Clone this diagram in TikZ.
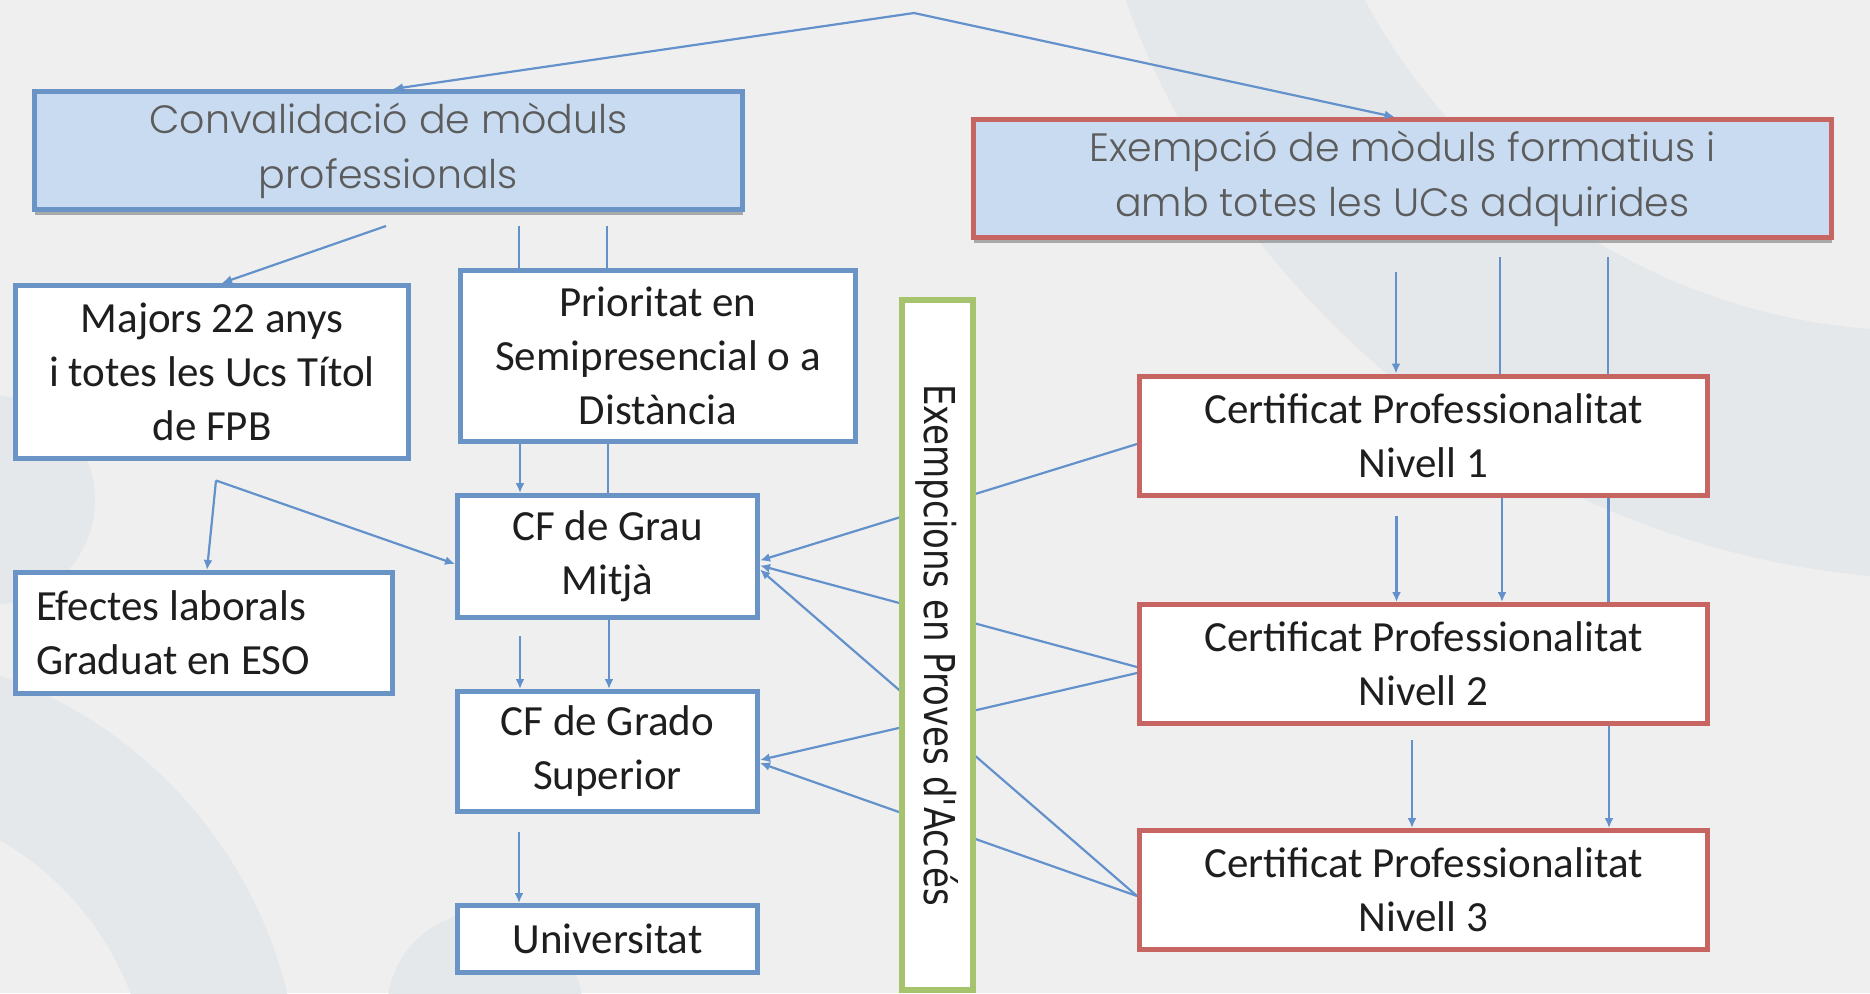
\documentclass[tikz,border=0pt]{standalone}
\usepackage{fontspec}
\setmainfont{Carlito}
\newfontfamily\titlefont{Poppins Light}
\newfontfamily\sidefont{DejaVu Sans}
\usepackage{tikz}
\usetikzlibrary{calc}
\usetikzlibrary{arrows.meta}
\usetikzlibrary{shadows}

\definecolor{bgcol}{HTML}{EFEFEF}
\definecolor{bgshade}{HTML}{E5E8EA}
\definecolor{boxblue}{HTML}{6A93C6}
\definecolor{boxred}{HTML}{C76562}
\definecolor{boxgreen}{HTML}{A6C46E}
\definecolor{titlefill}{HTML}{C8DBF0}
\definecolor{titletext}{HTML}{5C5C5C}
\definecolor{bodytext}{HTML}{1E1E1E}
\definecolor{linkblue}{HTML}{6391CB}

\begin{document}
\begin{tikzpicture}[x=1pt,y=-1pt,
	box/.style={draw=boxblue,line width=5pt,fill=white,inner sep=0pt,text=bodytext,align=center,font=\fontsize{43}{54}\selectfont},
	titlebox/.style={box,fill=titlefill,text=titletext,font=\titlefont\fontsize{39.5}{55}\selectfont,drop shadow={shadow xshift=0pt,shadow yshift=-5pt,fill=black!45,opacity=0.7}},
	certbox/.style={box,draw=boxred,minimum width=568pt,minimum height=119pt},
	cfbox/.style={box,minimum width=300pt},
	ln/.style={draw=linkblue,line width=2.2pt},
	arr/.style={ln,-{Latex[length=10pt,width=9pt]}}]
	\useasboundingbox (0,0) rectangle (1870,993);
	\fill[bgcol] (0,0) rectangle (1870,993);
	% background rings
	\begin{scope}
		\clip (0,0) rectangle (1870,993);
		\fill[bgshade,even odd rule] (1953,-300) circle (880pt) (1920,-300) circle (631pt);
		\fill[bgshade] (-10,500) circle (105pt);
		\fill[bgshade,even odd rule] (-150,1100) circle (450pt) (-150,1100) circle (300pt);
		\fill[bgshade] (485,1010) circle (98pt);
	\end{scope}

	% boxes
	\node[titlebox,minimum width=708pt,minimum height=118pt] (conv) at (388.5,150.5) {Convalidació de mòduls\\professionals};
	\node[titlebox,draw=boxred,minimum width=858pt,minimum height=118pt] (exem) at (1402.5,178.5) {Exempció de mòduls formatius i\\amb totes les UCs adquirides};
	\node[box,minimum width=393pt,minimum height=173pt] (majors) at (212,372) {Majors 22 anys\\i totes les Ucs Títol\\de FPB};
	\node[box,minimum width=395pt,minimum height=171pt] (prio) at (658,356) {Prioritat en\\Semipresencial o a\\Distància};
	\node[box,align=flush left,text width=336pt,minimum width=377pt,minimum height=121pt] (efect) at (204,633) {Efectes laborals\\Graduat en ESO};
	\node[cfbox,minimum height=122pt] (grau) at (607.5,556.5) {CF de Grau\\Mitjà};
	\node[cfbox,minimum height=120pt] (grado) at (607.5,751.5) {CF de Grado\\Superior};
	\node[cfbox,minimum height=67pt] (univ) at (607.5,939) {Universitat};
	\node[certbox] (n1) at (1423.5,435.5) {Certificat Professionalitat\\Nivell 1};
	\node[certbox] (n2) at (1423.5,664) {Certificat Professionalitat\\Nivell 2};
	\node[certbox] (n3) at (1423.5,890) {Certificat Professionalitat\\Nivell 3};

	% connectors
	\coordinate (top) at (914,13);
	\coordinate (fork) at ($(majors.south)+(4,19.5)$);
	\draw[arr] (top) -- ($(conv.north)+(4.5,0)$);
	\draw[arr] (top) -- ($(exem.north)+(-8,0)$);
	\draw[arr] ($(conv.south)+(-2.5,14)$) -- ($(majors.north)+(10,0)$);
	\draw[ln] ($(conv.south)+(130.5,14)$) -- ($(prio.north)+(-139,0)$);
	\draw[ln] ($(conv.south)+(218.5,14)$) -- ($(prio.north)+(-51,0)$);
	\draw[arr] ($(prio.south)+(-138,0)$) -- ($(grau.north)+(-87.5,0)$);
	\draw[ln] ($(prio.south)+(-50,0)$) -- ($(grau.north)+(0.5,0)$);
	\draw[arr] (fork) -- ($(efect.north)+(3,0)$);
	\draw[arr] (fork) -- ($(grau.west)+(0,7.5)$);
	\draw[arr] ($(grau.south)+(-87.5,16)$) -- ($(grado.north)+(-87.5,0)$);
	\draw[arr] ($(grau.south)+(1.5,0)$) -- ($(grado.north)+(1.5,0)$);
	\draw[arr] ($(grado.south)+(-88.5,18)$) -- ($(univ.north)+(-88.5,0)$);
	\draw[arr] ($(exem.south)+(-6.5,32)$) -- ($(n1.north)+(-27.5,0)$);
	\draw[ln] ($(exem.south)+(97.5,17)$) -- ($(n1.north)+(76.5,0)$);
	\draw[ln] ($(exem.south)+(205.5,17)$) -- ($(n1.north)+(184.5,0)$);
	\draw[arr] ($(n1.south)+(-27,18)$) -- ($(n2.north)+(-27,0)$);
	\draw[arr] ($(n1.south)+(78.5,0)$) -- ($(n2.north)+(78.5,0)$);
	\draw[ln] ($(n1.south)+(185,0)$) -- ($(n2.north)+(185,0)$);
	\draw[arr] ($(n2.south)+(-11.5,14)$) -- ($(n3.north)+(-11.5,0)$);
	\draw[arr] ($(n2.south)+(185.5,0)$) -- ($(n3.north)+(185.5,0)$);
	\draw[arr] ($(n1.west)+(0,8.5)$) -- ($(grau.east)+(0,4)$);
	\draw[arr] ($(n2.west)+(0,3)$) -- ($(grau.east)+(0,9)$);
	\draw[arr] ($(n3.west)+(0,6)$) -- ($(grau.east)+(0,13)$);
	\draw[arr] ($(n2.west)+(0,9)$) -- ($(grado.east)+(0,8.5)$);
	\draw[arr] ($(n3.west)+(0,6)$) -- ($(grado.east)+(0,11.5)$);

	% green box on top of the lines
	\node[box,draw=boxgreen,line width=6pt,rotate=-90,minimum width=690pt,minimum height=71pt,font=\sidefont\fontsize{34}{40}\selectfont] (side) at (937.5,645) {\scalebox{1}[1.25]{Exempcions en Proves d'Accés}};
\end{tikzpicture}
\end{document}
